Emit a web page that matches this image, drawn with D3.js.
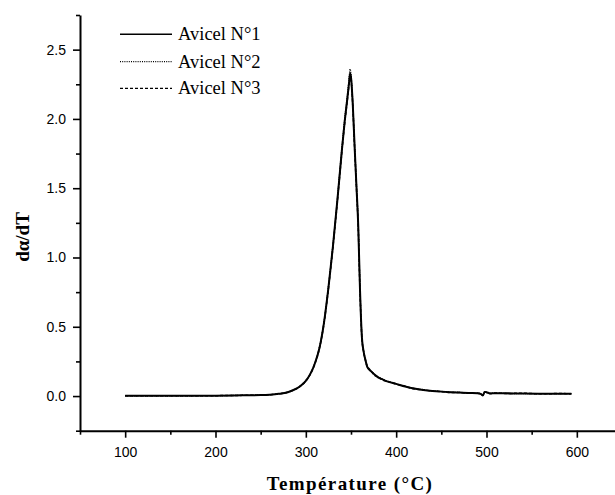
<!DOCTYPE html>
<html>

<head>
  <!-- Load d3.js version 7-->
  <script src="https://d3js.org/d3.v7.min.js"></script>
  <title> DTG Avicel </title>
  <style>
    body { margin: 0; background: #fff; }
  </style>
</head>

<body>

  <!-- Create a div where the graph will take place -->
  <div id="myDiv"></div>

  <script>

    // data
    const temps = [100, 150, 200, 230, 250, 260, 270, 280, 285, 290, 295, 300, 305, 310, 315, 320, 325, 330, 335, 340,
      343, 346, 348, 349, 350, 352, 354, 356, 358, 360, 362, 364, 366, 368, 372, 376, 380, 385, 390, 400,
      410, 420, 430, 440, 450, 460, 470, 480, 490, 494, 496, 498, 500, 504, 510, 520, 540, 560, 580, 594];

    const avicel1 = [0.002, 0.002, 0.003, 0.005, 0.007, 0.010, 0.016, 0.028, 0.040, 0.055, 0.078, 0.110, 0.160, 0.235, 0.345, 0.525, 0.780, 1.080, 1.420, 1.780,
      1.980, 2.150, 2.270, 2.330, 2.300, 2.100, 1.800, 1.520, 1.230, 0.760, 0.430, 0.320, 0.260, 0.210, 0.180, 0.155, 0.135, 0.120, 0.106, 0.088,
      0.069, 0.054, 0.044, 0.037, 0.032, 0.028, 0.025, 0.022, 0.020, 0.014, 0.004, 0.030, 0.028, 0.019, 0.021, 0.020, 0.018, 0.017, 0.016, 0.017];

    const avicel2 = [0.002, 0.002, 0.003, 0.005, 0.007, 0.010, 0.016, 0.028, 0.041, 0.056, 0.079, 0.112, 0.162, 0.238, 0.350, 0.530, 0.790, 1.090, 1.430, 1.800,
      2.000, 2.170, 2.300, 2.360, 2.320, 2.110, 1.810, 1.530, 1.240, 0.770, 0.440, 0.325, 0.262, 0.212, 0.182, 0.158, 0.138, 0.122, 0.107, 0.089,
      0.070, 0.055, 0.045, 0.038, 0.033, 0.029, 0.026, 0.022, 0.020, 0.015, 0.006, 0.028, 0.027, 0.020, 0.021, 0.019, 0.018, 0.018, 0.017, 0.018];

    const avicel3 = [0.002, 0.002, 0.003, 0.005, 0.007, 0.010, 0.016, 0.027, 0.039, 0.054, 0.077, 0.108, 0.158, 0.232, 0.342, 0.520, 0.775, 1.075, 1.410, 1.770,
      1.970, 2.140, 2.260, 2.320, 2.290, 2.090, 1.790, 1.510, 1.220, 0.750, 0.425, 0.318, 0.258, 0.215, 0.185, 0.150, 0.140, 0.115, 0.108, 0.085,
      0.071, 0.051, 0.046, 0.035, 0.033, 0.026, 0.026, 0.020, 0.021, 0.013, 0.005, 0.029, 0.026, 0.018, 0.022, 0.019, 0.020, 0.016, 0.018, 0.016];

    const seriesNames = ["Avicel N°1", "Avicel N°2", "Avicel N°3"];
    const xTicks = [100, 200, 300, 400, 500, 600];
    const yTicks = [0.0, 0.5, 1.0, 1.5, 2.0, 2.5];

    // dimensions of the picture
    const W = 615, H = 495;
    const serif = "'Liberation Serif', 'Times New Roman', serif";
    const sans = "'Liberation Sans', Arial, sans-serif";

    const svg = d3.select("#myDiv")
      .append("svg")
        .attr("width", W)
        .attr("height", H);

    // scales
    const x = d3.scaleLinear().domain([50, 650]).range([80, 622]);
    const y = d3.scaleLinear().domain([-0.25, 2.75]).range([430.7, 15]);

    // curves (dashed / dotted below the solid one)
    const line = d3.line()
      .curve(d3.curveMonotoneX)
      .x(d => x(d[0]))
      .y(d => y(d[1]));

    const styles = [
      { vals: avicel3, dash: "3,2", w: 1.5 },
      { vals: avicel2, dash: "1,1.2", w: 1.3 },
      { vals: avicel1, dash: null, w: 2 }
    ];

    styles.forEach(s => {
      svg.append("path")
        .datum(temps.map((t, i) => [t, s.vals[i]]))
        .attr("fill", "none")
        .attr("stroke", "#000")
        .attr("stroke-width", s.w)
        .attr("stroke-dasharray", s.dash)
        .attr("d", line);
    });

    // x axis, major + minor ticks
    const xAxis = svg.append("g")
      .attr("transform", `translate(0, ${y(-0.25)})`)
      .call(d3.axisBottom(x).tickValues(xTicks).tickSize(7).tickFormat(d3.format("d")).tickSizeOuter(0));
    svg.append("g")
      .attr("transform", `translate(0, ${y(-0.25)})`)
      .call(d3.axisBottom(x).tickValues([50, 150, 250, 350, 450, 550, 650]).tickSize(4).tickFormat("").tickSizeOuter(0))
      .select(".domain").remove();

    // y axis, major + minor ticks
    const yAxis = svg.append("g")
      .attr("transform", `translate(${x(50)}, 0)`)
      .call(d3.axisLeft(y).tickValues(yTicks).tickSize(7).tickFormat(d3.format(".1f")).tickSizeOuter(0));
    svg.append("g")
      .attr("transform", `translate(${x(50)}, 0)`)
      .call(d3.axisLeft(y).tickValues([-0.25, 0.25, 0.75, 1.25, 1.75, 2.25, 2.75]).tickSize(4).tickFormat("").tickSizeOuter(0))
      .select(".domain").remove();

    svg.selectAll(".domain").attr("stroke", "#000").attr("stroke-width", 2);
    svg.selectAll(".tick line").attr("stroke", "#000").attr("stroke-width", 1.6);

    xAxis.selectAll("text")
      .style("font-family", sans)
      .style("font-size", "14px")
      .attr("fill", "#000")
      .attr("dy", "1.2em");
    yAxis.selectAll("text")
      .style("font-family", sans)
      .style("font-size", "14px")
      .attr("fill", "#000")
      .attr("x", -14);

    // axis titles
    svg.append("text")
      .attr("x", 350)
      .attr("y", 490)
      .attr("text-anchor", "middle")
      .style("font-family", serif)
      .style("font-weight", "bold")
      .style("font-size", "19px")
      .style("letter-spacing", "1.4px")
      .text("Température (°C)");

    svg.append("text")
      .attr("transform", "translate(29, 237) rotate(-90)")
      .attr("text-anchor", "middle")
      .style("font-family", serif)
      .style("font-weight", "bold")
      .style("font-size", "19px")
      .text("dα/dT");

    // legend
    const legendDash = [null, "1,1.2", "3,2"];
    const legendY = [34.3, 61.7, 88.3];
    seriesNames.forEach((name, i) => {
      svg.append("line")
        .attr("x1", 120).attr("x2", 172)
        .attr("y1", legendY[i]).attr("y2", legendY[i])
        .attr("stroke", "#000")
        .attr("stroke-width", i === 0 ? 1.6 : 1.2)
        .attr("stroke-dasharray", legendDash[i]);
      svg.append("text")
        .attr("x", 178)
        .attr("y", legendY[i] + 6)
        .style("font-family", serif)
        .style("font-size", "18.5px")
        .text(name);
    });

  </script>

</body>

</html>
